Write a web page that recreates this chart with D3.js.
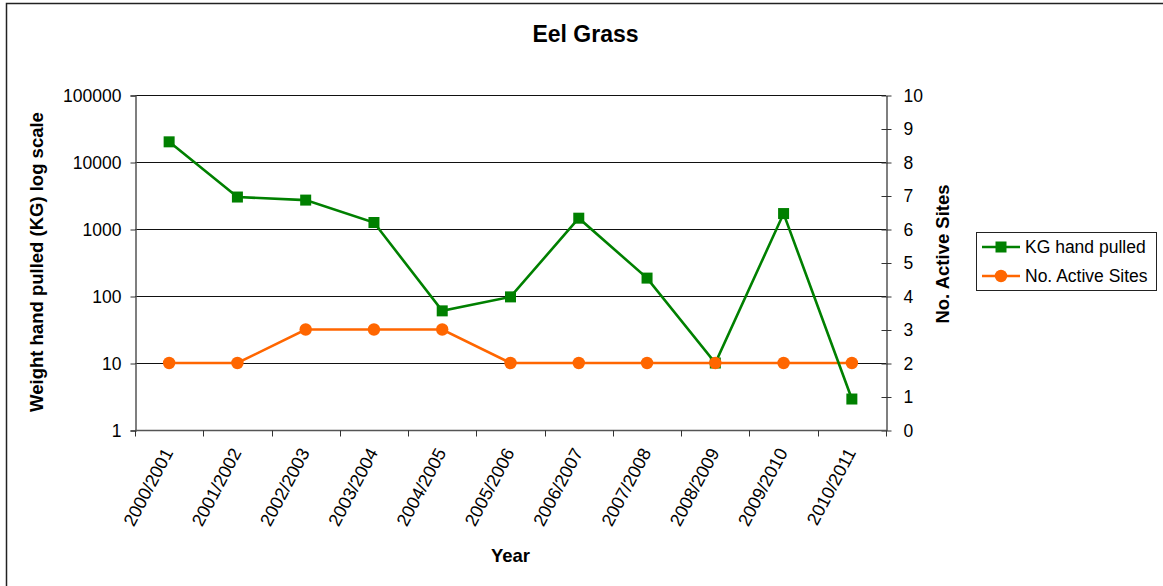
<!DOCTYPE html>
<html>
<head>
<meta charset="utf-8">
<script src="https://cdn.jsdelivr.net/npm/d3@7"></script>
<style>
  html, body { margin: 0; padding: 0; background: #fff; }
  svg { display: block; font-family: Arial, "Liberation Sans", sans-serif; }
</style>
</head>
<body>
<svg id="chart" width="1163" height="586"></svg>
<script>
// Season labels along the category axis
const seasons = ["2000/2001", "2001/2002", "2002/2003", "2003/2004", "2004/2005",
  "2005/2006", "2006/2007", "2007/2008", "2008/2009", "2009/2010", "2010/2011"];
// Eel grass removed by hand each season (kg, plotted on a log axis)
const kgHandPulled = [20000, 3000, 2700, 1250, 60, 97, 1450, 185, 10, 1700, 2.9];
// Number of active sites each season (right axis)
const activeSites = [2, 2, 3, 3, 3, 2, 2, 2, 2, 2, 2];
// Tick values
const logTicks = [1, 10, 100, 1000, 10000, 100000];
const siteTicks = [0, 1, 2, 3, 4, 5, 6, 7, 8, 9, 10];

const svg = d3.select("#chart");
const plot = { left: 135, right: 886, top: 95, bottom: 430 };

// Outer chart frame
svg.append("rect")
  .attr("x", 6.5).attr("y", 3.5)
  .attr("width", 1200).attr("height", 640)
  .attr("fill", "none").attr("stroke", "#222").attr("stroke-width", 1.5);

const x = d3.scaleBand().domain(seasons).range([plot.left, plot.right]).padding(0);
const yLog = d3.scaleLog().domain([1, 100000]).range([plot.bottom, plot.top]);
const ySites = d3.scaleLinear().domain([0, 10]).range([plot.bottom, plot.top]);
const cx = d => x(d) + x.bandwidth() / 2;

// Horizontal gridlines at each decade
svg.append("g")
  .selectAll("line")
  .data(logTicks.slice(1))
  .join("line")
  .attr("x1", plot.left).attr("x2", plot.right)
  .attr("y1", d => Math.round(yLog(d)) + 0.5)
  .attr("y2", d => Math.round(yLog(d)) + 0.5)
  .attr("stroke", "#111").attr("stroke-width", 1);

// Left (log) axis
const leftAxis = d3.axisLeft(yLog)
  .tickValues(logTicks)
  .tickFormat(d3.format("d"))
  .tickSizeOuter(0)
  .tickSize(5)
  .tickPadding(9);
const gl = svg.append("g").attr("transform", `translate(${plot.left + 0.5},0.5)`).call(leftAxis);
gl.select(".domain").attr("stroke", "#555").attr("stroke-width", 1.5);
gl.selectAll(".tick line").attr("stroke", "#333");
gl.selectAll(".tick text").attr("font-size", 17.5).attr("fill", "#000")
  .attr("font-family", "Arial, 'Liberation Sans', sans-serif");

// Right (sites) axis, ticks cross the axis line
const rightAxis = d3.axisRight(ySites)
  .tickValues(siteTicks)
  .tickFormat(d3.format("d"))
  .tickSizeOuter(0)
  .tickSizeInner(5)
  .tickPadding(12);
const gr = svg.append("g").attr("transform", `translate(${plot.right + 0.5},0.5)`).call(rightAxis);
gr.select(".domain").attr("stroke", "#555").attr("stroke-width", 1.5);
gr.selectAll(".tick line").attr("x1", -5).attr("x2", 5).attr("stroke", "#333");
gr.selectAll(".tick text").attr("font-size", 17.5).attr("fill", "#000")
  .attr("font-family", "Arial, 'Liberation Sans', sans-serif");

// Bottom category axis: ticks at band boundaries, rotated labels at centres
const gb = svg.append("g").attr("transform", `translate(0,${plot.bottom + 0.5})`);
gb.append("line")
  .attr("x1", plot.left).attr("x2", plot.right + 1)
  .attr("stroke", "#555").attr("stroke-width", 1.5);
const boundaries = seasons.map(s => x(s)).concat([plot.right]);
gb.selectAll("line.tk")
  .data(boundaries)
  .join("line").attr("class", "tk")
  .attr("x1", d => Math.round(d) + 0.5).attr("x2", d => Math.round(d) + 0.5)
  .attr("y1", 0).attr("y2", 6)
  .attr("stroke", "#333");
gb.selectAll("text")
  .data(seasons)
  .join("text")
  .attr("transform", d => `translate(${cx(d) - 1},${19}) rotate(-62)`)
  .attr("text-anchor", "end")
  .attr("dy", "0.35em")
  .attr("font-size", 18)
  .text(d => d);

// Series lines and markers
const lineKg = d3.line().x((d, i) => cx(seasons[i])).y(d => yLog(d));
const lineSites = d3.line().x((d, i) => cx(seasons[i])).y(d => ySites(d));

svg.append("path").datum(activeSites)
  .attr("d", lineSites).attr("fill", "none")
  .attr("stroke", "#ff6600").attr("stroke-width", 2.6);

svg.append("path").datum(kgHandPulled)
  .attr("d", lineKg).attr("fill", "none")
  .attr("stroke", "#008000").attr("stroke-width", 2.6);

const sq = 11;
svg.append("g").selectAll("rect")
  .data(kgHandPulled)
  .join("rect")
  .attr("x", (d, i) => cx(seasons[i]) - sq / 2)
  .attr("y", d => yLog(d) - sq / 2)
  .attr("width", sq).attr("height", sq)
  .attr("fill", "#008000");

svg.append("g").selectAll("circle")
  .data(activeSites)
  .join("circle")
  .attr("cx", (d, i) => cx(seasons[i]))
  .attr("cy", d => ySites(d))
  .attr("r", 6.2)
  .attr("fill", "#ff6600");

// Titles
svg.append("text")
  .attr("x", 585.5).attr("y", 42)
  .attr("text-anchor", "middle")
  .attr("font-size", 23).attr("font-weight", "bold")
  .text("Eel Grass");

svg.append("text")
  .attr("x", 510.5).attr("y", 562)
  .attr("text-anchor", "middle")
  .attr("font-size", 18.5).attr("font-weight", "bold")
  .text("Year");

svg.append("text")
  .attr("transform", `translate(43,262) rotate(-90)`)
  .attr("text-anchor", "middle")
  .attr("font-size", 18.5).attr("font-weight", "bold")
  .text("Weight hand pulled (KG) log scale");

svg.append("text")
  .attr("transform", `translate(949,254) rotate(-90)`)
  .attr("text-anchor", "middle")
  .attr("font-size", 18.5).attr("font-weight", "bold")
  .text("No. Active Sites");

// Legend
const legend = svg.append("g");
legend.append("rect")
  .attr("x", 976.5).attr("y", 232.5)
  .attr("width", 180).attr("height", 58)
  .attr("fill", "#fff").attr("stroke", "#222").attr("stroke-width", 1);

const legendItems = [
  { label: "KG hand pulled", color: "#008000", shape: "square" },
  { label: "No. Active Sites", color: "#ff6600", shape: "circle" }
];
legendItems.forEach((item, i) => {
  const yy = 247 + i * 29;
  legend.append("line")
    .attr("x1", 982).attr("x2", 1020)
    .attr("y1", yy).attr("y2", yy)
    .attr("stroke", item.color).attr("stroke-width", 2.6);
  if (item.shape === "square") {
    legend.append("rect")
      .attr("x", 1001 - sq / 2).attr("y", yy - sq / 2)
      .attr("width", sq).attr("height", sq)
      .attr("fill", item.color);
  } else {
    legend.append("circle")
      .attr("cx", 1001).attr("cy", yy).attr("r", 6.2)
      .attr("fill", item.color);
  }
  legend.append("text")
    .attr("x", 1025).attr("y", yy).attr("dy", "0.36em")
    .attr("font-size", 17.5)
    .text(item.label);
});
</script>
</body>
</html>
